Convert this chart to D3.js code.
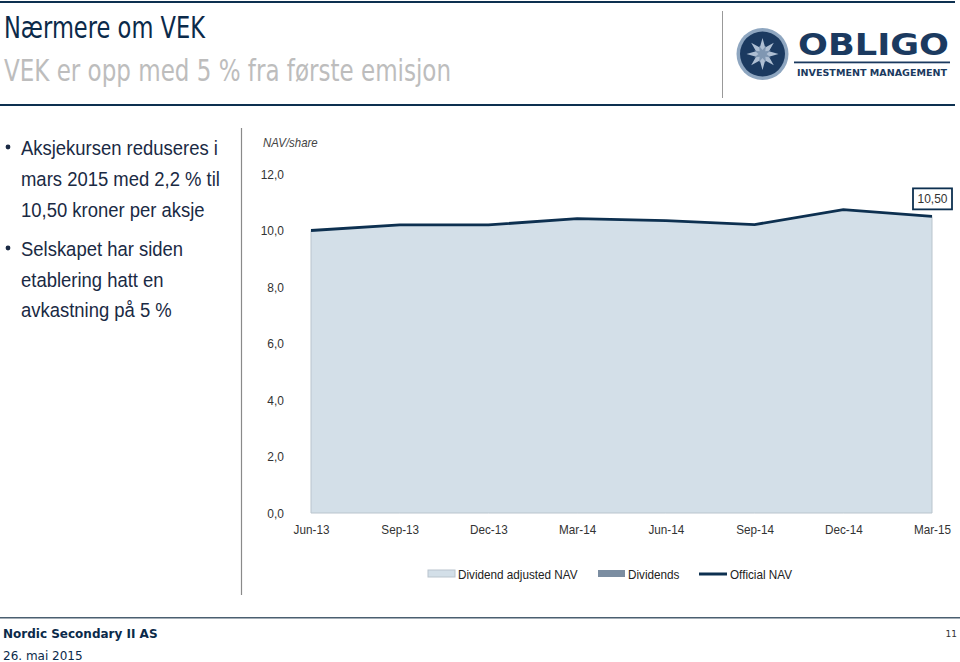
<!DOCTYPE html>
<html><head><meta charset="utf-8">
<script src="https://cdn.jsdelivr.net/npm/d3@7"></script>
<style>
html,body{margin:0;padding:0;background:#fff;}
svg{display:block;}
</style></head>
<body>
<svg id="c" width="960" height="662"></svg>
<script>
const quarters = ["Jun-13","Sep-13","Dec-13","Mar-14","Jun-14","Sep-14","Dec-14","Mar-15"];
const officialNAV = [10.0, 10.2, 10.2, 10.42, 10.35, 10.21, 10.74, 10.50];
const dividendAdjustedNAV = [10.0, 10.2, 10.2, 10.42, 10.35, 10.21, 10.74, 10.50];
const yTicks = [0, 2, 4, 6, 8, 10, 12];
const legendLabels = ["Dividend adjusted NAV", "Dividends", "Official NAV"];
const bullets = [
  ["Aksjekursen reduseres i", "mars 2015 med 2,2 % til", "10,50 kroner per aksje"],
  ["Selskapet har siden", "etablering hatt en", "avkastning på 5 %"]
];

const svg = d3.select("#c");
const navy = "#0d3050";
const narrow = "'Liberation Sans Narrow', 'Arial Narrow', 'Liberation Sans', Arial, sans-serif";
const head = "Tahoma, 'DejaVu Sans', Verdana, sans-serif";

function condense(sel, k){
  sel.each(function(){
    const w = this.getComputedTextLength();
    d3.select(this).attr("textLength", w*k).attr("lengthAdjust","spacingAndGlyphs");
  });
  return sel;
}

// header
svg.append("rect").attr("x",0).attr("y",1).attr("width",955).attr("height",2).attr("fill",navy);
svg.append("rect").attr("x",0).attr("y",104).attr("width",955).attr("height",2).attr("fill",navy);
svg.append("text").attr("x",4).attr("y",38).attr("font-family",head).attr("font-size",30)
  .attr("fill","#0b2a4a").attr("textLength",201).attr("lengthAdjust","spacingAndGlyphs").text("Nærmere om VEK");
svg.append("text").attr("x",4).attr("y",81).attr("font-family",head).attr("font-size",30)
  .attr("fill","#bdbdbd").attr("textLength",447).attr("lengthAdjust","spacingAndGlyphs").text("VEK er opp med 5 % fra første emisjon");
svg.append("line").attr("x1",722.5).attr("x2",722.5).attr("y1",11).attr("y2",98).attr("stroke","#999").attr("stroke-width",1);

// logo
const lg = svg.append("g").attr("transform","translate(762.5,54)");
lg.append("circle").attr("r",26).attr("fill","#8ea6c0");
lg.append("circle").attr("r",22.5).attr("fill","#1b3a60");
const star = [];
for (let i=0;i<16;i++){ const r = i%2===0?16:7; const a = i*Math.PI/8 - Math.PI/2; star.push([r*Math.cos(a), r*Math.sin(a)]); }
lg.append("path").attr("d", d3.line()(star)+"Z").attr("fill","#aebfd3");
const star2 = [];
for (let i=0;i<16;i++){ const r = i%2===0?9:4; const a = i*Math.PI/8 - Math.PI/2 + Math.PI/8; star2.push([r*Math.cos(a), r*Math.sin(a)]); }
lg.append("path").attr("d", d3.line()(star2)+"Z").attr("fill","#7f97b2");
svg.append("text").attr("x",798).attr("y",54.5).attr("font-family","'DejaVu Sans', Verdana, sans-serif").attr("font-weight","bold")
  .attr("font-size",31).attr("fill","#1b3a60").attr("textLength",151).attr("lengthAdjust","spacingAndGlyphs").text("OBLIGO");
svg.append("rect").attr("x",794).attr("y",61.5).attr("width",156).attr("height",1.8).attr("fill","#1b3a60");
svg.append("text").attr("x",797).attr("y",76).attr("font-family","'DejaVu Sans', Verdana, sans-serif").attr("font-weight","bold")
  .attr("font-size",9.5).attr("fill","#1b3a60").attr("textLength",150).attr("lengthAdjust","spacingAndGlyphs").text("INVESTMENT MANAGEMENT");

// bullets
const lineYs = [[155,186,217],[256,287,317]];
bullets.forEach((b,i)=>{
  svg.append("circle").attr("cx",8).attr("cy",lineYs[i][0]-8).attr("r",2.4).attr("fill","#1a2a44");
  b.forEach((t,j)=>{
    const tx = svg.append("text").attr("x",21).attr("y",lineYs[i][j]).attr("font-family",narrow).attr("font-size",20.5)
      .attr("fill","#1a2a44").text(t);
    condense(tx, 0.9);
  });
});
svg.append("line").attr("x1",241.5).attr("x2",241.5).attr("y1",128).attr("y2",595).attr("stroke","#8a8a8a").attr("stroke-width",1.2);

// chart
const x = d3.scalePoint().domain(quarters).range([311, 932]);
const y = d3.scaleLinear().domain([0, 12]).range([513, 174]);

condense(svg.append("text").attr("x",263).attr("y",147).attr("font-family",narrow).attr("font-style","italic")
  .attr("font-size",13).attr("fill","#444").text("NAV/share"), 0.88);

const yAxis = svg.append("g").attr("transform","translate(284,0)")
  .call(d3.axisLeft(y).tickValues(yTicks).tickSize(0).tickPadding(0).tickFormat(d=>d3.format(".1f")(d).replace(".",",")));
yAxis.select(".domain").remove();
condense(yAxis.selectAll("text").attr("font-family",narrow).attr("font-size",13).attr("fill","#333"), 0.92);

const xAxis = svg.append("g").attr("transform","translate(0,524)")
  .call(d3.axisBottom(x).tickSize(0).tickPadding(0));
xAxis.select(".domain").remove();
condense(xAxis.selectAll("text").attr("font-family",narrow).attr("font-size",13).attr("fill","#333").attr("dy","0.75em"), 0.9);

const data = quarters.map((q,i)=>({q, adj: dividendAdjustedNAV[i], nav: officialNAV[i]}));
const area = d3.area().x(d=>x(d.q)).y0(y(0)).y1(d=>y(d.adj));
svg.append("path").datum(data).attr("d",area).attr("fill","#d3dfe8").attr("stroke","#b9c4cd").attr("stroke-width",1);
const line = d3.line().x(d=>x(d.q)).y(d=>y(d.nav));
svg.append("path").datum(data).attr("d",line).attr("fill","none").attr("stroke",navy).attr("stroke-width",2.8);

// data label
const last = data[data.length-1];
const lx = x(last.q), ly = y(last.nav);
svg.append("rect").attr("x",lx-19).attr("y",ly-28).attr("width",39).attr("height",21)
  .attr("fill","#fff").attr("stroke",navy).attr("stroke-width",1.8);
condense(svg.append("text").attr("x",lx+0.5).attr("y",ly-13).attr("text-anchor","middle").attr("font-family",narrow)
  .attr("font-size",13).attr("fill","#333").text(d3.format(".2f")(last.nav).replace(".",",")), 0.92);

// legend
const lgY = 574;
svg.append("rect").attr("x",428).attr("y",lgY-4).attr("width",27).attr("height",7).attr("fill","#d3dfe8").attr("stroke","#b9c4cd");
svg.append("rect").attr("x",598).attr("y",lgY-4).attr("width",27).attr("height",7).attr("fill","#7b8da1");
svg.append("line").attr("x1",699).attr("x2",727).attr("y1",lgY).attr("y2",lgY).attr("stroke",navy).attr("stroke-width",3);
[[458,legendLabels[0]],[628,legendLabels[1]],[730,legendLabels[2]]].forEach(([xx,t])=>{
  condense(svg.append("text").attr("x",xx).attr("y",lgY+5).attr("font-family",narrow).attr("font-size",13).attr("fill","#222").text(t), 0.9);
});

// footer
svg.append("rect").attr("x",0).attr("y",617).attr("width",960).attr("height",1.5).attr("fill","#4a5f70");
svg.append("text").attr("x",3).attr("y",638).attr("font-family",head).attr("font-weight","bold").attr("font-size",12)
  .attr("fill","#0b2a4a").text("Nordic Secondary II AS");
svg.append("text").attr("x",3).attr("y",660).attr("font-family",head).attr("font-size",12)
  .attr("fill","#0b2a4a").text("26. mai 2015");
svg.append("text").attr("x",957).attr("y",637).attr("text-anchor","end").attr("font-family",head).attr("font-size",9)
  .attr("fill","#333").text("11");
</script>
</body></html>
